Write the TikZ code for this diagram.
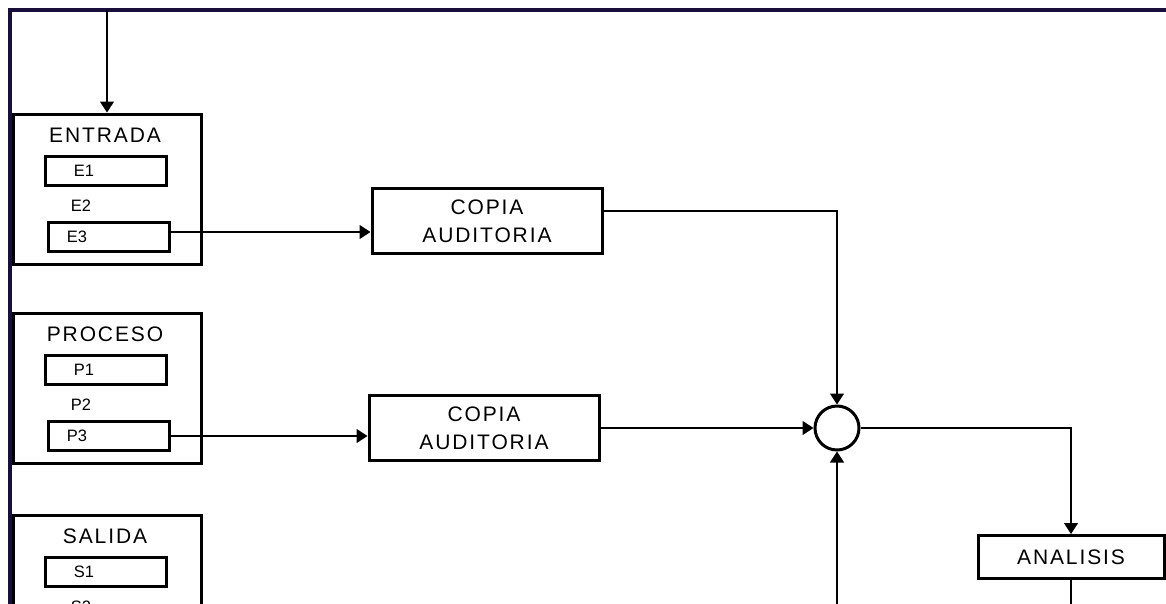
\documentclass[tikz,border=0pt]{standalone}
\usepackage{fontspec}
\setmainfont{Liberation Sans}
\newfontfamily\espaciada[LetterSpace=9]{Liberation Sans}
\usetikzlibrary{arrows.meta}
\definecolor{marco}{RGB}{25,15,60}

\begin{document}
\begin{tikzpicture}[x=1pt, y=-1pt, >={Triangle[width=14pt,length=11pt]}, line join=miter,
	grupo/.style={draw, line width=3pt, minimum width=188pt, minimum height=150pt, inner sep=0pt},
	caja/.style={draw, line width=3pt, minimum width=230pt, minimum height=65pt, align=center, inner sep=0pt, font=\espaciada\fontsize{21}{28}\selectfont},
	item/.style={draw, line width=3pt, minimum width=121pt, minimum height=29pt, inner sep=0pt},
	titulo/.style={inner sep=0pt, font=\espaciada\fontsize{21}{24}\selectfont},
	etiqueta/.style={inner sep=0pt, font=\fontsize{16.5}{18}\selectfont},
	flecha/.style={->, line width=1.2pt}]
	\useasboundingbox (0,0) rectangle (1166,603);
	\clip (0,0) rectangle (1166,603);

	% Marco
	\draw[marco, line width=3.5pt] (10,640) -- (10,10) -- (1200,10);

	% Grupos de entrada, proceso y salida
	\foreach \g/\t/\y/\l in {entrada/ENTRADA/189/E, proceso/PROCESO/388/P, salida/SALIDA/590/S} {
		\node[grupo] (\g) at (107,\y) {};
		\node[titulo] (\g-t) at (105,\y-54) {\t};
		\node[item] (\g-1) at (106,\y-18) {};
		\node[etiqueta] (\g-1t) at (84,\y-18) {\l1};
		\node[etiqueta] (\g-2t) at (81,\y+17) {\l2};
		\node[item] (\g-3) at (109,\y+48) {};
		\node[etiqueta] (\g-3t) at (77,\y+48) {\l3};
	}

	% Copias de auditoria
	\node[caja] (copia1) at (487,221) {COPIA\\AUDITORIA};
	\node[caja] (copia2) at (484,428) {COPIA\\AUDITORIA};

	% Union y analisis
	\node[draw, circle, line width=3pt, minimum size=44pt, inner sep=0pt] (suma) at (837,428) {};
	\node[caja, minimum width=186pt, minimum height=43pt] (analisis) at (1071,557) {ANALISIS};

	% Conexiones
	\coordinate (ini) at (107,10);
	\coordinate (abajo) at (837,640);
	\draw[flecha] (ini) -- (entrada.north);
	\draw[flecha] ([yshift=5pt]entrada-3.east) -- ([yshift=5pt]entrada-3.east -| copia1.west);
	\draw[flecha] (proceso-3.east) -- (proceso-3.east -| copia2.west);
	\draw[flecha] ([yshift=10pt]copia1.east) -| (suma.north);
	\draw[flecha] (copia2.east) -- (suma.west);
	\draw[flecha] (abajo) -- (suma.south);
	\draw[flecha] (suma.east) -| (analisis.north);
	\draw[line width=1.2pt] (analisis.south) -- ++(0,60);
\end{tikzpicture}
\end{document}
